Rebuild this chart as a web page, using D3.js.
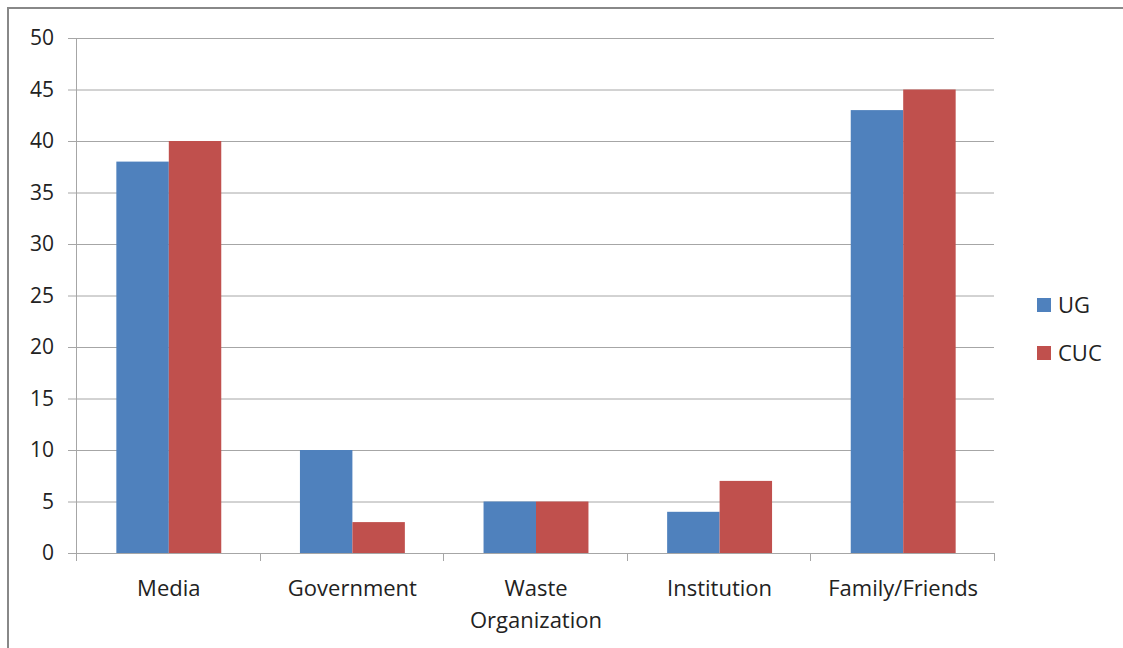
<!DOCTYPE html>
<html><head><meta charset="utf-8">
<script src="https://cdn.jsdelivr.net/npm/d3@7"></script>
<style>body{margin:0;background:#fff;} svg{display:block;}</style>
</head><body>
<svg id="c" width="1123" height="648"></svg>
<script>
const categories = ["Media", "Government", "Waste Organization", "Institution", "Family/Friends"];
const seriesNames = ["UG", "CUC"];
const ugValues = [38, 10, 5, 4, 43];
const cucValues = [40, 3, 5, 7, 45];
const yTicks = [0, 5, 10, 15, 20, 25, 30, 35, 40, 45, 50];
const colors = ["#4F81BD", "#C0504D"];

const svg = d3.select("#c");
const font = "'Open Sans', 'Noto Sans', sans-serif";
// outer border
svg.append("rect").attr("x", 8).attr("y", 8).attr("width", 1125).attr("height", 660)
  .attr("fill", "#fff").attr("stroke", "#888").attr("stroke-width", 2);

const L = 76, R = 994, T = 38, B = 553;
const x = d3.scaleBand().domain(categories).range([L, R]).paddingInner(0).paddingOuter(0);
const y = d3.scaleLinear().domain([0, 50]).range([B, T]);
const xs = d3.scaleBand().domain(seriesNames).range([1, x.bandwidth() + 1]).paddingInner(0).paddingOuter(0.75);

// gridlines
svg.append("g").selectAll("line").data(yTicks).join("line")
  .attr("x1", L - 8).attr("x2", R).attr("y1", d => y(d) + 0.5).attr("y2", d => y(d) + 0.5)
  .attr("stroke", "#A6A6A6").attr("stroke-width", 1);

// y axis line
svg.append("line").attr("x1", L + 0.5).attr("x2", L + 0.5).attr("y1", T).attr("y2", B + 8)
  .attr("stroke", "#A6A6A6");

// bars
const data = categories.map((c, i) => ({c, vals: [ugValues[i], cucValues[i]]}));
const g = svg.append("g");
data.forEach(d => {
  d.vals.forEach((v, j) => {
    g.append("rect")
      .attr("x", x(d.c) + xs(seriesNames[j]))
      .attr("y", y(v))
      .attr("width", xs.bandwidth())
      .attr("height", y(0) - y(v))
      .attr("fill", colors[j]);
  });
});

// x tick marks
const xb = categories.map(c => x(c)).concat([R]);
svg.append("g").selectAll("line").data(xb).join("line")
  .attr("x1", d => Math.round(d) + 0.5).attr("x2", d => Math.round(d) + 0.5)
  .attr("y1", B).attr("y2", B + 8).attr("stroke", "#A6A6A6");

// y labels
svg.append("g").selectAll("text").data(yTicks).join("text")
  .attr("x", 54).attr("y", d => y(d)).attr("dy", "0.35em")
  .attr("text-anchor", "end").attr("font-family", font).attr("font-size", 21)
  .attr("fill", "#222").text(d => d);

// x labels
const xl = svg.append("g");
categories.forEach(c => {
  const words = c === "Waste Organization" ? ["Waste", "Organization"] : [c];
  words.forEach((w, k) => {
    xl.append("text").attr("x", x(c) + x.bandwidth() / 2 + 1).attr("y", 596 + k * 32)
      .attr("text-anchor", "middle").attr("font-family", font).attr("font-size", 22)
      .attr("fill", "#222").text(w);
  });
});

// legend
const lg = svg.append("g");
seriesNames.forEach((s, i) => {
  lg.append("rect").attr("x", 1037).attr("y", 298 + i * 48).attr("width", 14).attr("height", 14).attr("fill", colors[i]);
  lg.append("text").attr("x", 1058).attr("y", 305 + i * 48).attr("dy", "0.35em")
    .attr("font-family", font).attr("font-size", 22).attr("fill", "#222").text(s);
});
</script>
</body></html>
